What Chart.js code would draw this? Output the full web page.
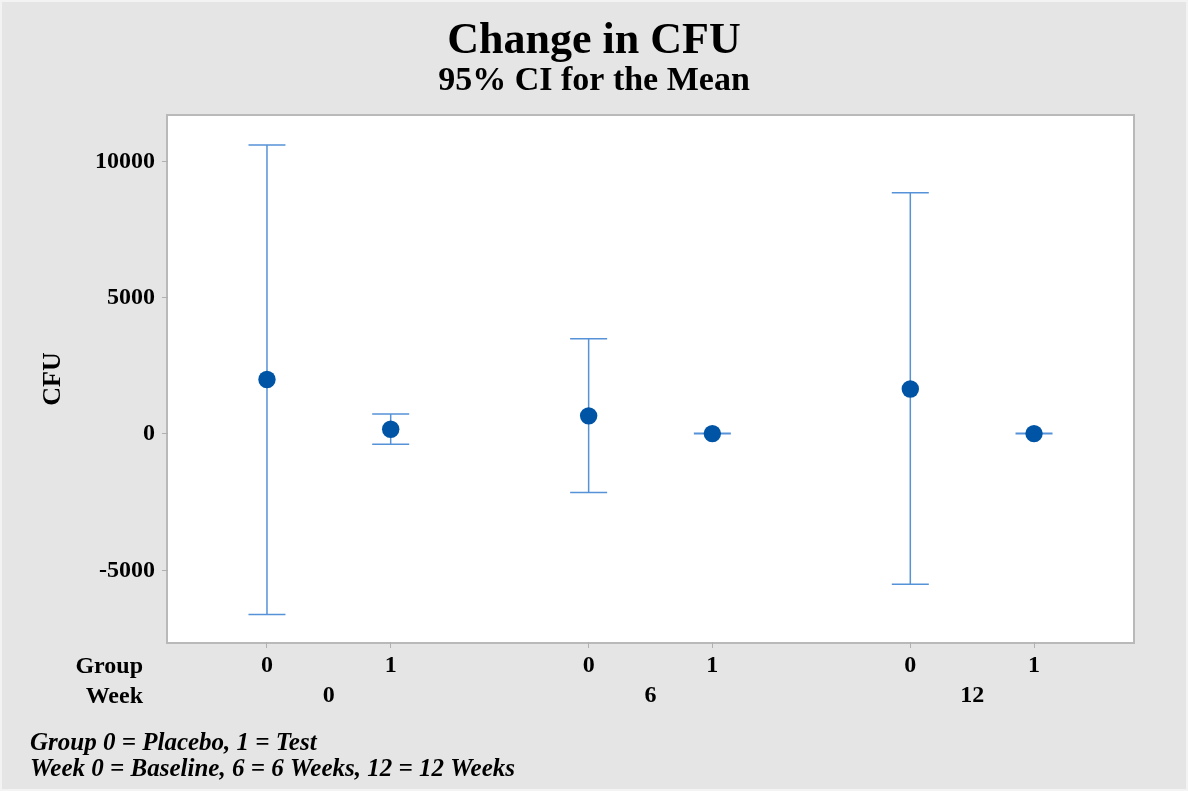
<!DOCTYPE html>
<html>
<head>
<meta charset="utf-8">
<script src="https://cdn.jsdelivr.net/npm/chart.js@4/dist/chart.umd.min.js"></script>
<style>
  html, body { margin: 0; padding: 0; background: #e5e5e5; }
  #wrap { width: 1188px; height: 791px; position: relative; }
</style>
</head>
<body>
<div id="wrap"><canvas id="cfuChart"></canvas></div>
<script>
// Данные графика
const xPos = [0, 1, 2.6, 3.6, 5.2, 6.2];
const groupLabels = ['0', '1', '0', '1', '0', '1'];
const weekPos = [0.5, 3.1, 5.7];
const weekLabels = ['0', '6', '12'];
const means = [2000, 175, 665, 15, 1650, 15];
const upper = [10600, 735, 3490, 25, 8850, 25];
const lower = [-6620, -375, -2150, 5, -5510, 5];
const yTicks = [-5000, 0, 5000, 10000];
const footnotes = ['Group 0 = Placebo, 1 = Test', 'Week 0 = Baseline, 6 = 6 Weeks, 12 = 12 Weeks'];

const serif = '"Liberation Serif", "Times New Roman", serif';

// Фон и рамка области построения
const framePlugin = {
    id: 'frame',
    beforeDraw(chart) {
        const ctx = chart.ctx;
        const a = chart.chartArea;
        ctx.save();
        ctx.fillStyle = '#e5e5e5';
        ctx.fillRect(0, 0, chart.width, chart.height);
        ctx.strokeStyle = '#f3f3f3';
        ctx.lineWidth = 2;
        ctx.strokeRect(1, 1, chart.width - 2, chart.height - 2);
        ctx.fillStyle = '#ffffff';
        ctx.fillRect(a.left, a.top, a.right - a.left, a.bottom - a.top);
        ctx.strokeStyle = '#b9b9b9';
        ctx.lineWidth = 2;
        ctx.strokeRect(a.left - 1, a.top - 1, a.right - a.left + 2, a.bottom - a.top + 2);
        ctx.restore();
    },
    afterDraw(chart) {
        const ctx = chart.ctx;
        const a = chart.chartArea;
        ctx.save();
        ctx.fillStyle = '#000';
        ctx.font = 'bold 24px ' + serif;
        ctx.textAlign = 'right';
        ctx.textBaseline = 'alphabetic';
        ctx.fillText('Group', 143, a.bottom + 31);
        ctx.fillText('Week', 143, a.bottom + 61);
        ctx.textAlign = 'left';
        ctx.font = 'italic bold 25px ' + serif;
        footnotes.forEach((t, i) => ctx.fillText(t, 30, 750 + i * 26));
        ctx.restore();
    }
};

// Доверительные интервалы
const errorBarPlugin = {
    id: 'errorBars',
    beforeDatasetsDraw(chart) {
        const ctx = chart.ctx;
        const xs = chart.scales.x;
        const ys = chart.scales.y;
        ctx.save();
        ctx.strokeStyle = '#5592d8';
        ctx.lineWidth = 1.5;
        xPos.forEach((xv, i) => {
            const px = xs.getPixelForValue(xv);
            const top = ys.getPixelForValue(upper[i]);
            const bot = ys.getPixelForValue(lower[i]);
            ctx.beginPath();
            ctx.moveTo(px, top);
            ctx.lineTo(px, bot);
            ctx.moveTo(px - 18.5, top);
            ctx.lineTo(px + 18.5, top);
            ctx.moveTo(px - 18.5, bot);
            ctx.lineTo(px + 18.5, bot);
            ctx.stroke();
        });
        ctx.restore();
    }
};

const tickFont = { family: serif, size: 24, weight: 'bold' };

new Chart(document.getElementById('cfuChart'), {
    type: 'scatter',
    data: {
        datasets: [{
            label: 'Mean',
            data: xPos.map((x, i) => ({ x: x, y: means[i] })),
            backgroundColor: '#0054a6',
            borderWidth: 0,
            pointRadius: 8.7,
            pointHoverRadius: 8.7
        }]
    },
    options: {
        responsive: true,
        maintainAspectRatio: false,
        animation: false,
        layout: { padding: { left: 0, right: 0, top: 0, bottom: 79 } },
        plugins: {
            legend: { display: false },
            tooltip: { enabled: false },
            title: {
                display: true,
                text: 'Change in CFU',
                color: '#000',
                font: { family: serif, size: 44, weight: 'bold', lineHeight: 1 },
                padding: { top: 20, bottom: 0 }
            },
            subtitle: {
                display: true,
                text: '95% CI for the Mean',
                color: '#000',
                font: { family: serif, size: 34, weight: 'bold', lineHeight: 1 },
                padding: { top: 0, bottom: 18 }
            }
        },
        scales: {
            x: {
                type: 'linear',
                position: 'bottom',
                min: -0.8,
                max: 7.0,
                afterBuildTicks: s => { s.ticks = xPos.map(v => ({ value: v })); },
                afterFit: s => { s.height = 30; },
                ticks: {
                    color: '#000',
                    font: tickFont,
                    padding: 3,
                    maxRotation: 0,
                    autoSkip: false,
                    callback: (v, i) => groupLabels[i]
                },
                grid: { drawOnChartArea: false, drawTicks: true, tickLength: 6, color: '#b0b0b0' },
                border: { display: false }
            },
            x2: {
                type: 'linear',
                position: 'bottom',
                min: -0.8,
                max: 7.0,
                afterBuildTicks: s => { s.ticks = weekPos.map(v => ({ value: v })); },
                afterFit: s => { s.height = 40; },
                ticks: {
                    color: '#000',
                    font: tickFont,
                    padding: 9,
                    maxRotation: 0,
                    autoSkip: false,
                    callback: (v, i) => weekLabels[i]
                },
                grid: { display: false, drawTicks: false },
                border: { display: false }
            },
            y: {
                type: 'linear',
                min: -7630,
                max: 11665,
                afterBuildTicks: s => { s.ticks = yTicks.map(v => ({ value: v })); },
                afterFit: s => { s.width = 168; },
                ticks: {
                    color: '#000',
                    font: tickFont,
                    padding: 7,
                    callback: v => String(v)
                },
                grid: { drawOnChartArea: false, drawTicks: true, tickLength: 6, color: '#b0b0b0' },
                border: { display: false },
                title: {
                    display: true,
                    text: 'CFU',
                    color: '#000',
                    font: { family: serif, size: 26, weight: 'bold' },
                    padding: { top: 38, bottom: 0 }
                }
            },
            // пустая правая ось — отступ справа, чтобы заголовок был по центру холста
            yR: {
                type: 'linear',
                position: 'right',
                min: -7630,
                max: 11665,
                afterFit: s => { s.width = 55; },
                ticks: { display: false },
                grid: { display: false, drawTicks: false },
                border: { display: false }
            }
        }
    },
    plugins: [framePlugin, errorBarPlugin]
});
</script>
</body>
</html>
